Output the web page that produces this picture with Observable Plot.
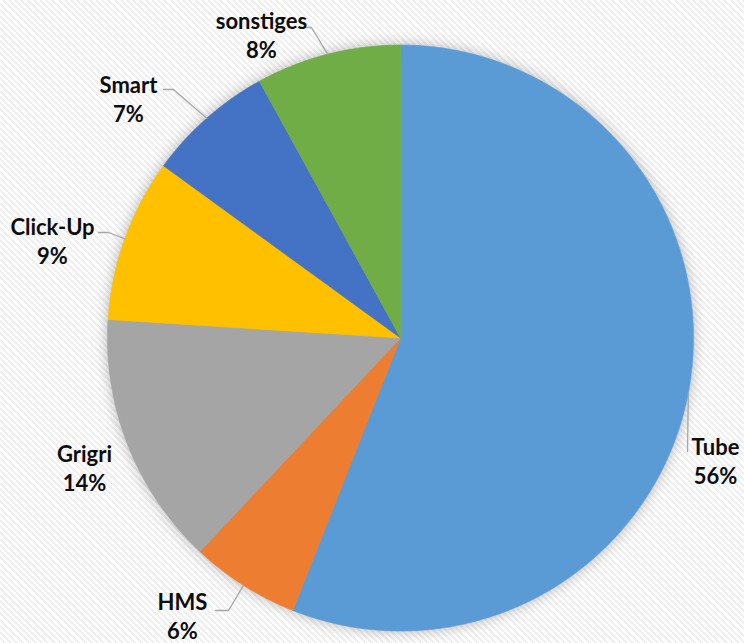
<!DOCTYPE html>
<html>
<head>
<meta charset="utf-8">
<script src="https://cdn.jsdelivr.net/npm/d3@7"></script>
<script src="https://cdn.jsdelivr.net/npm/@observablehq/plot@0.6"></script>
<style>
  html, body { margin: 0; padding: 0; }
  body {
    width: 744px; height: 643px; overflow: hidden;
    background: repeating-linear-gradient(45deg, #ffffff 0px, #ffffff 2.2px, #f0f0f0 2.2px, #f0f0f0 4.4px);
  }
  #chart svg { display: block; background: transparent; }
  #chart svg g.slices { filter: drop-shadow(0px 0px 7px rgba(0,0,0,0.28)); }
</style>
</head>
<body>
<div id="chart"></div>
<script>
// ---- data ----
const categories = ["Tube", "HMS", "Grigri", "Click-Up", "Smart", "sonstiges"];
const shares = [56, 6, 14, 9, 7, 8];
const colors = ["#5B9BD5", "#ED7D31", "#A5A5A5", "#FFC000", "#4472C4", "#70AD47"];

// ---- layout (pixel positions of the label blocks and leader elbows) ----
const W = 744, H = 643;
const CX = 400, CY = 337.5, R = 293;
const labelLayout = {
  "Tube":      {x: 715, y: 460, line: [[687, 451]]},
  "HMS":       {x: 182, y: 615, line: [[215, 610], [228, 610]]},
  "Grigri":    {x: 84,  y: 467, line: null},
  "Click-Up":  {x: 52,  y: 240, line: [[98, 232], [108, 232]]},
  "Smart":     {x: 128, y: 98,  line: [[163, 89], [173, 89]]},
  "sonstiges": {x: 261, y: 34,  line: [[298, 27], [311, 27]]}
};
const ux = px => (px - CX) / R;
const uy = py => (py - CY) / R;

// ---- pie geometry from the data ----
const total = d3.sum(shares);
const table = categories.map((c, i) => ({cat: c, value: shares[i], color: colors[i]}));
const arcs = d3.pie().sort(null).value(d => d.value)(table);

const polys = [];
arcs.forEach(a => {
  const n = Math.max(4, Math.ceil((a.endAngle - a.startAngle) / 0.01));
  polys.push({cat: a.data.cat, x: 0, y: 0, color: a.data.color});
  for (let k = 0; k <= n; k++) {
    const t = a.startAngle + (a.endAngle - a.startAngle) * k / n;
    polys.push({cat: a.data.cat, x: Math.sin(t), y: -Math.cos(t), color: a.data.color});
  }
  polys.push({cat: a.data.cat, x: 0, y: 0, color: a.data.color});
});

const leaders = [];
const labels = [];
arcs.forEach(a => {
  const mid = (a.startAngle + a.endAngle) / 2;
  const L = labelLayout[a.data.cat];
  labels.push({
    x: ux(L.x), y: uy(L.y),
    text: a.data.cat + "\n" + Math.round(a.data.value / total * 100) + "%"
  });
  if (L.line) {
    const pts = [[Math.sin(mid), -Math.cos(mid)]];
    L.line.slice().reverse().forEach(p => pts.push([ux(p[0]), uy(p[1])]));
    pts.forEach(p => leaders.push({cat: a.data.cat, x: p[0], y: p[1]}));
  }
});

const plot = Plot.plot({
  width: W, height: H,
  margin: 0,
  x: {domain: [-1, 1], range: [CX - R, CX + R], axis: null},
  y: {domain: [-1, 1], range: [CY - R, CY + R], axis: null},
  style: {background: "transparent"},
  marks: [
    Plot.line(polys, {x: "x", y: "y", z: "cat", fill: "color", stroke: "color", strokeWidth: 0.6, curve: "linear", className: "slices"}),
    Plot.line(leaders, {x: "x", y: "y", z: "cat", stroke: "#A6A6A6", strokeWidth: 1.3}),
    Plot.text(labels, {
      x: "x", y: "y", text: "text",
      fontSize: 22, fontWeight: "bold", fill: "#0d0d0d",
      fontFamily: "Lato, sans-serif",
      lineHeight: 1.3, textAnchor: "middle", lineAnchor: "middle"
    })
  ]
});
document.getElementById("chart").appendChild(plot);
</script>
</body>
</html>
